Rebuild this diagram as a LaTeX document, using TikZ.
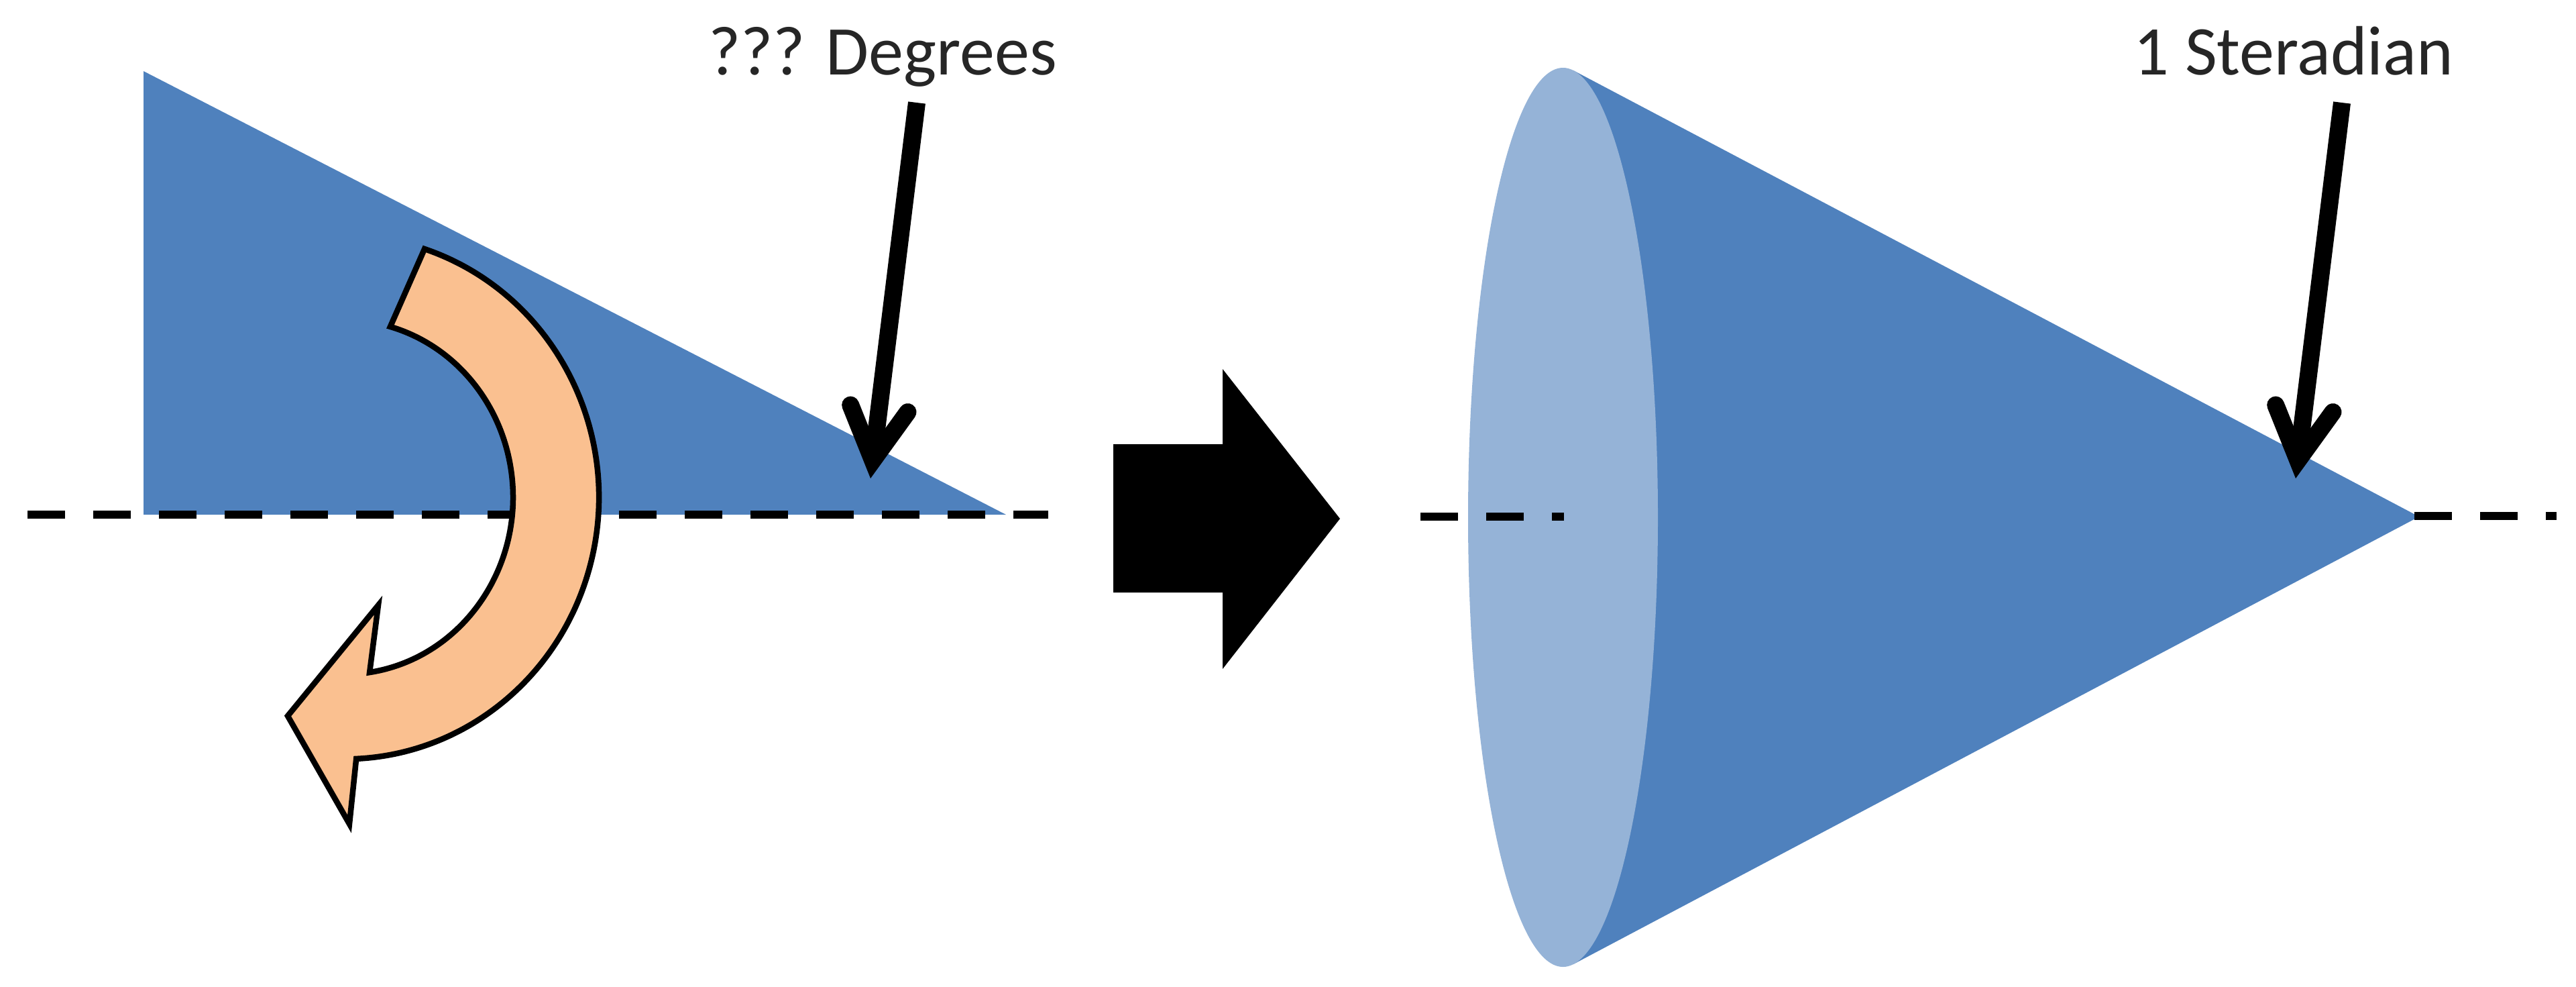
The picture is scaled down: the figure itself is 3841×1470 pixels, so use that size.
\documentclass[tikz,border=0pt]{standalone}
\usepackage{fontspec}
\setmainfont{Carlito}
\usetikzlibrary{arrows.meta}
\definecolor{coneblue}{RGB}{79,129,189}
\definecolor{baseblue}{RGB}{149,179,215}
\definecolor{peach}{RGB}{250,192,144}
\begin{document}
\begin{tikzpicture}[x=0.1mm, y=-0.1mm,
  axisline/.style={line width=1.25mm, dash pattern=on 5.6mm off 4.2mm},
  pointarrow/.style={line width=2.6mm, -{Straight Barb[length=7.8mm, width=8.6mm, line cap=round, line join=miter]}},
  txt/.style={font=\fontsize{29.6}{36}\selectfont, text=black!85, inner sep=0pt, anchor=base},
  curlarrow/.style={fill=peach, draw=black, line width=0.85mm, line join=miter},
]
\useasboundingbox (0,0) rectangle (3841,1470);
\fill[white] (0,0) rectangle (3841,1470);

% ---- left: triangle rotated about the axis
\fill[coneblue] (214,106) -- (214,767) -- (1500,767) -- cycle;
\coordinate (axL1) at (41,767);
\coordinate (axL2) at (1563,767);
\draw[axisline] (axL1) -- (axL2);
\begin{scope}[shift={(514,741)}, yscale=-1]
  \draw[curlarrow] (119,370) arc[start angle=71.7, end angle=-87.4, x radius=379, y radius=390]
    -- (7,-487) -- (-85,-326) -- (50,-161) -- (37.1,-261.1)
    arc[start angle=-81.5, end angle=74.3, x radius=251, y radius=264] -- cycle;
\end{scope}
\node[txt] (degLabel) at (1316,111) {??? Degrees};
\coordinate (degFrom) at (1367,153);
\coordinate (degTo) at (1298,713);
\draw[pointarrow] (degFrom) -- (degTo);

% ---- middle block arrow
\fill[black] (1660,662) -- (1823,662) -- (1823,550) -- (1998,773) -- (1823,997) -- (1823,883) -- (1660,883) -- cycle;

% ---- right: cone
\fill[coneblue] (3607,770) -- (2346,105) -- (2346,1437) -- cycle;
\fill[baseblue] (2330.5,771) ellipse[x radius=141.5, y radius=670];
\coordinate (axR1) at (2118,770);
\coordinate (axR2) at (2332,770);
\draw[axisline] (axR1) -- (axR2);
\coordinate (axR3) at (3600,769);
\coordinate (axR4) at (3812,769);
\draw[axisline] (axR3) -- (axR4);
\node[txt] (sterLabel) at (3420,111) {1 Steradian};
\coordinate (sterFrom) at (3492,153);
\coordinate (sterTo) at (3423,713);
\draw[pointarrow] (sterFrom) -- (sterTo);
\end{tikzpicture}
\end{document}
